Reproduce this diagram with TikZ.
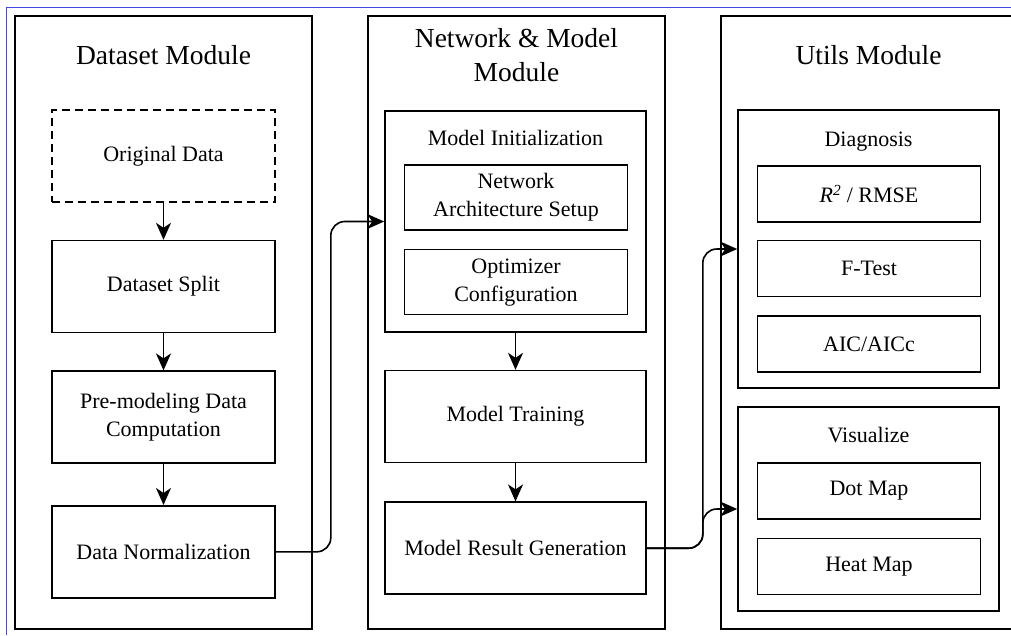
\documentclass[tikz,border=0pt]{standalone}
\usepackage{fontspec}
\setmainfont{Liberation Serif}
\usetikzlibrary{arrows.meta,positioning}
\definecolor{selblue}{RGB}{70,70,235}
\tikzstyle{module} = [rectangle, draw, line width=1.6pt, minimum width=297pt, minimum height=613pt]
\tikzstyle{group} = [rectangle, draw, line width=1.6pt, minimum width=261pt]
\tikzstyle{block} = [rectangle, draw, line width=1.6pt, minimum width=223pt, minimum height=92pt,
inner xsep=2pt, align=center, font=\fontsize{22}{28}\selectfont]
\tikzstyle{smallblock} = [block, minimum height=56pt]
\tikzstyle{title} = [align=center, font=\fontsize{27.5}{34}\selectfont]
\tikzstyle{grouptitle} = [font=\fontsize{22}{27}\selectfont]
\tikzstyle{pijl} = [draw, line width=1.6pt, -{Stealth[length=17pt,width=15pt,inset=5pt]}]

\begin{document}
\begin{tikzpicture}[x=1pt, y=-1pt]
	\useasboundingbox (0,0) rectangle (1011,635);
	\clip (0,0) rectangle (1011,635);
	\draw [selblue, line width=1pt] (6,635) -- (6,7) -- (1011,7);
	
	% modules
	\node [module] (dsmod) at (163.5,322.5) {};
	\node [module] (netmod) at (516.5,322.5) {};
	\node [module, minimum width=295pt] (utmod) at (868.5,322.5) {};
	\node [title] (dstitle) at (163.5,55) {Dataset Module};
	\node [title] (nettitle) at (516.5,55) {Network \& Model\\Module};
	\node [title] (uttitle) at (868.5,55) {Utils Module};
	
	% dataset module
	\node [block, dashed, dash pattern=on 8pt off 5pt] (orig) at (163.5,156) {Original Data};
	\node [block, below=37pt of orig] (split) {Dataset Split};
	\node [block, below=37pt of split] (premod) {Pre-modeling Data\\Computation};
	\node [block, below=41pt of premod] (norm) {Data Normalization};
	
	\path [pijl] (orig)--(split);
	\path [pijl] (split)--(premod);
	\path [pijl] (premod)--(norm);
	
	% network & model module
	\node [group, minimum height=221pt] (init) at (515.5,221.5) {};
	\node [grouptitle] (inittitle) at (515.5,138) {Model Initialization};
	\node [block, minimum height=65pt] (arch) at (516,197.5) {Network\\Architecture Setup};
	\node [block, minimum height=65pt, below=18pt of arch] (optim) {Optimizer\\Configuration};
	\node [block, minimum width=261pt, below=37pt of init] (train) {Model Training};
	\node [block, minimum width=261pt, below=38pt of train] (result) {Model Result Generation};
	
	\path [pijl] (init)--(train);
	\path [pijl] (train)--(result);
	
	% utils module
	\node [group, minimum height=278pt] (diag) at (868.5,249) {};
	\node [grouptitle] (diagtitle) at (868.5,142) {Diagnosis};
	\node [smallblock] (rsq) at (869,194) {\textit{R\textsuperscript{2}} / RMSE};
	\node [smallblock, below=17pt of rsq] (ftest) {F-Test};
	\node [smallblock, below=18pt of ftest] (aic) {AIC/AICc};
	
	\node [group, minimum height=204pt] (vis) at (868.5,509) {};
	\node [grouptitle] (vistitle) at (868.5,435) {Visualize};
	\node [smallblock] (dotmap) at (869,491) {Dot Map};
	\node [smallblock, below=18pt of dotmap] (heatmap) {Heat Map};
	
	% between modules
	\path [pijl, rounded corners=14pt] (norm.east) -- ++(55,0) |- (init.west);
	\path [pijl, rounded corners=14pt] (result.east) -- ++(56,0) |- (diag.west);
	\path [pijl, rounded corners=14pt] (result.east) -- ++(56,0) |- (vis.west);
\end{tikzpicture}
\end{document}
